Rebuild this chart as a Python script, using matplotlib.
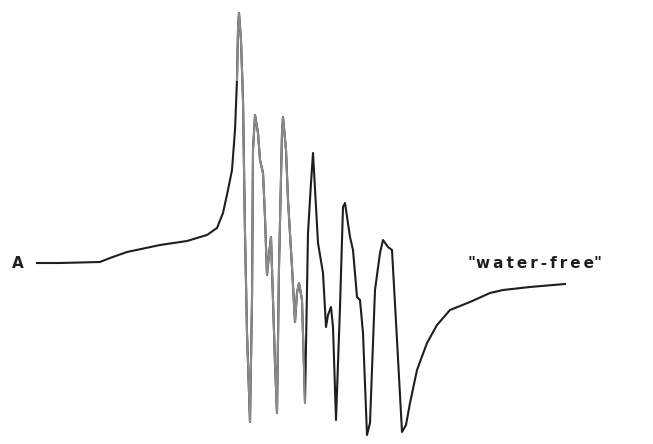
import matplotlib
matplotlib.use("Agg")
import matplotlib.pyplot as plt
import numpy as np

# Magnetic field axis (arbitrary units, increasing to the right)
field = [37, 60, 100, 110, 127, 160, 187, 207, 217, 223, 228, 232, 235, 237, 238, 239,
         241, 243, 245, 247, 250,
         252, 253, 255, 258, 260, 263, 265, 266, 267, 269, 271, 273, 275, 277,
         279, 282, 283, 286, 288, 292, 295, 297, 299, 302, 305,
         308, 311, 313, 318, 323, 326, 328, 331, 333, 336,
         340, 343, 345, 350, 353, 357, 360, 363, 367,
         370, 375, 380, 383, 388, 392, 397, 402,
         406, 410, 417, 427, 437, 450, 470, 490, 503, 530, 565]

# First-derivative ESR signal (arbitrary units, baseline = 0)
signal = [0, 0, 1, 5, 11, 18, 22, 28, 35, 50, 73, 93, 133, 183, 233, 250,
          223, 163, 30, -70, -159,
          -37, 113, 148, 130, 103, 90, 46, 16, -12, 8, 26, -37, -100, -150,
          -4, 130, 146, 113, 63, -4, -59, -30, -20, -37, -140,
          30, 80, 110, 20, -10, -64, -52, -44, -64, -157,
          -44, 56, 60, 26, 13, -34, -37, -70, -172,
          -160, -27, 10, 23, 16, 13, -77, -169,
          -162, -140, -107, -80, -62, -47, -39, -30, -27, -24, -21]

plt.rcParams["font.family"] = ["DejaVu Sans"]
fig = plt.figure(figsize=(6.53, 4.44), dpi=100)
ax = fig.add_axes([0, 0, 1, 1])
ax.set_xlim(0, 653)
ax.set_ylim(263 - 444, 263)
ax.axis("off")

f = np.array(field)
s = np.array(signal)

# early, lighter part of the trace drawn over the darker full trace
ax.plot(f, s, color="#1e1e1e", lw=1.5, solid_joinstyle="round")
idx = np.where((f >= 237) & (f <= 305))[0]
ax.plot(f[idx[0]:idx[-1] + 1], s[idx[0]:idx[-1] + 1], color="#8a8a8a", lw=1.5,
        solid_joinstyle="round")

ax.text(18, -1, "A", fontsize=11, color="#1e1e1e", ha="center", va="center",
        fontweight="bold")
label = "\u2009".join("water-free")
ax.text(535, 0, "\"" + label + "\"", fontsize=11, color="#1e1e1e",
        ha="center", va="center", fontweight="bold")

fig.savefig("out.png", dpi=100)
